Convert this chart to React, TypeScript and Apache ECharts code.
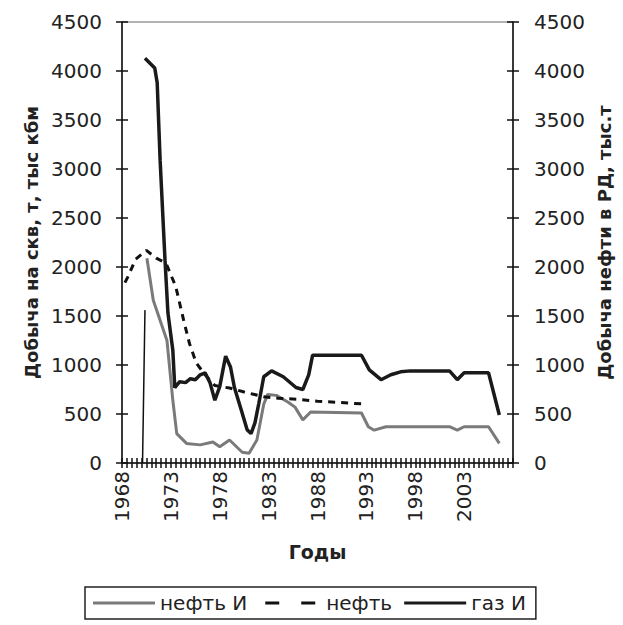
import React, { useEffect, useRef } from "react";
import * as echarts from "echarts";

// Years (x positions) and values for each series
const gasYears = [1970.35, 1971.35, 1971.6, 1971.9, 1972.4, 1972.7, 1973.2, 1973.4, 1973.9, 1974.5, 1975.0, 1975.5, 1976.0, 1976.5, 1977.0, 1977.5, 1978.0, 1978.6, 1979.1, 1979.5, 1980.2, 1980.8, 1981.2, 1981.6, 1982.0, 1982.5, 1983.3, 1984.5, 1985.8, 1986.5, 1987.1, 1987.5, 1992.5, 1993.3, 1994.5, 1995.5, 1996.5, 1997.5, 2001.5, 2002.3, 2003.0, 2005.5, 2006.6];
const gasValues = [4130, 4030, 3880, 3090, 2070, 1530, 1150, 770, 830, 820, 860, 850, 900, 920, 820, 640, 780, 1090, 980, 770, 540, 340, 300, 410, 610, 880, 940, 880, 770, 750, 900, 1100, 1100, 950, 850, 900, 930, 940, 940, 850, 920, 920, 490];

const oilWellYears = [1970.55, 1971.2, 1972.6, 1973.2, 1973.6, 1974.6, 1976.0, 1977.3, 1978.0, 1979.0, 1980.3, 1981.0, 1981.8, 1982.5, 1982.9, 1983.8, 1985.0, 1985.7, 1986.5, 1987.3, 1992.5, 1993.2, 1993.8, 1995.0, 2001.5, 2002.3, 2003.0, 2005.5, 2006.6];
const oilWellValues = [2090, 1660, 1250, 640, 300, 200, 185, 215, 165, 235, 110, 100, 235, 600, 700, 690, 620, 570, 440, 520, 510, 370, 335, 370, 370, 335, 370, 370, 200];

const oilYears = [1968.3, 1968.6, 1969.4, 1970.5, 1971.5, 1972.5, 1973.5, 1974.3, 1974.9, 1975.6, 1976.5, 1977.5, 1979.0, 1980.5, 1982.5, 1984.0, 1986.0, 1988.0, 1990.0, 1991.5, 1993.0];
const oilValues = [1840, 1900, 2080, 2170, 2090, 2040, 1800, 1460, 1220, 1020, 900, 790, 765, 725, 675, 660, 650, 630, 620, 610, 600];

const spikeYears = [1970.1, 1970.35];
const spikeValues = [0, 1560];

const yMin = 0;
const yMax = 4500;
const yStep = 500;
const xMin = 1968;
const xMax = 2008;
const xStep = 0.5;
const xLabelEvery = 5;
const xLabelLast = 2003;

const legendNames = ["нефть И", "нефть", "газ И"];
const leftTitle = "Добыча на скв, т, тыс кбм";
const rightTitle = "Добыча нефти в РД, тыс.т";
const xTitle = "Годы";

const FONT = "DejaVu Sans";

const ICON_SOLID = "path://M0,0 M0,5.5H62V8.5H0Z M62,14";
const ICON_DASH = "path://M0,0 M6,5.5H20V8.5H6Z M42,5.5H56V8.5H42Z M62,14";

function pairs(xs: number[], ys: number[]) {
  return xs.map((x, i) => [x, ys[i]]);
}

export default function App() {
  const ref = useRef<HTMLDivElement>(null);
  useEffect(() => {
    if (!ref.current) return;
    const chart = echarts.init(ref.current, null, { renderer: "svg" });
    const xFormatter = (v: number) => {
      const r = Math.round(v * 2) / 2;
      if (Number.isInteger(r) && (r - xMin) % xLabelEvery === 0 && r <= xLabelLast) return String(r);
      return "";
    };
    const yFormatter = (v: number) => String(v);
    const baseY = {
      type: "value" as const,
      min: yMin,
      max: yMax,
      interval: yStep,
      splitLine: { show: false },
    };
    const baseX = {
      type: "value" as const,
      min: xMin,
      max: xMax,
      interval: xStep,
      splitLine: { show: false },
    };
    chart.setOption({
      animation: false,
      backgroundColor: "#fff",
      textStyle: { fontFamily: FONT, color: "#222" },
      grid: {
        left: 122,
        right: 110,
        top: 22,
        bottom: 162,
        show: true,
        borderColor: "#666",
        borderWidth: 1,
      },
      xAxis: [
        {
          ...baseX,
          position: "bottom",
          axisLine: { onZero: false, lineStyle: { color: "#111", width: 1.5 } },
          axisTick: { length: 5, lineStyle: { color: "#111", width: 1.5 } },
          axisLabel: {
            formatter: xFormatter,
            rotate: 90,
            fontSize: 20,
            color: "#222",
            fontFamily: FONT,
            margin: 8,
          },
          name: xTitle,
          nameLocation: "middle",
          nameGap: 79,
          nameTextStyle: { fontSize: 19, fontWeight: "bold", color: "#222", fontFamily: FONT },
        },
        {
          ...baseX,
          position: "bottom",
          axisLine: { show: false, onZero: false },
          axisTick: { inside: true, length: 5, lineStyle: { color: "#111", width: 1.5 } },
          axisLabel: { show: false },
        },
      ],
      yAxis: [
        {
          ...baseY,
          position: "left",
          axisLine: { show: true, lineStyle: { color: "#111", width: 1.5 } },
          axisTick: { show: true, length: 6, lineStyle: { color: "#111", width: 1.5 } },
          axisLabel: { formatter: yFormatter, fontSize: 20, color: "#222", fontFamily: FONT, margin: 20 },
          name: leftTitle,
          nameLocation: "middle",
          nameGap: 80,
          nameRotate: 90,
          nameTextStyle: { fontSize: 18, fontWeight: "bold", color: "#222", fontFamily: FONT },
        },
        {
          ...baseY,
          position: "right",
          axisLine: { show: true, lineStyle: { color: "#111", width: 1.5 } },
          axisTick: { show: true, length: 6, lineStyle: { color: "#111", width: 1.5 } },
          axisLabel: { formatter: yFormatter, fontSize: 20, color: "#222", fontFamily: FONT, margin: 21 },
          name: rightTitle,
          nameLocation: "middle",
          nameGap: 67,
          nameRotate: 90,
          nameTextStyle: { fontSize: 18, fontWeight: "bold", color: "#222", fontFamily: FONT },
        },
        {
          ...baseY,
          position: "left",
          axisLine: { show: false },
          axisTick: { show: true, inside: true, length: 6, lineStyle: { color: "#111", width: 1.5 } },
          axisLabel: { show: false },
        },
        {
          ...baseY,
          position: "right",
          axisLine: { show: false },
          axisTick: { show: true, inside: true, length: 6, lineStyle: { color: "#111", width: 1.5 } },
          axisLabel: { show: false },
        },
      ],
      legend: {
        data: [
          { name: legendNames[0], icon: ICON_SOLID },
          { name: legendNames[1], icon: ICON_DASH },
          { name: legendNames[2], icon: ICON_SOLID },
        ],
        left: 85,
        top: 587,
        width: 460,
        orient: "horizontal",
        borderColor: "#222",
        borderWidth: 1.5,
        borderRadius: 0,
        padding: [6, 10, 6, 8],
        itemWidth: 62,
        itemHeight: 14,
        itemGap: 12,
        textStyle: { fontSize: 20, color: "#222", fontFamily: FONT },
      },
      series: [
        {
          name: legendNames[0],
          type: "line",
          data: pairs(oilWellYears, oilWellValues),
          symbol: "none",
          lineStyle: { color: "#7a7a7a", width: 3 },
          itemStyle: { color: "#7a7a7a" },
          z: 2,
        },
        {
          name: legendNames[1],
          type: "line",
          data: pairs(oilYears, oilValues),
          symbol: "none",
          yAxisIndex: 1,
          lineStyle: { color: "#111", width: 3, type: [7, 6] },
          itemStyle: { color: "#111" },
          z: 3,
        },
        {
          name: legendNames[2],
          type: "line",
          data: pairs(gasYears, gasValues),
          symbol: "none",
          lineStyle: { color: "#1a1a1a", width: 3.5 },
          itemStyle: { color: "#1a1a1a" },
          z: 4,
        },
        {
          name: "spike",
          type: "line",
          data: pairs(spikeYears, spikeValues),
          symbol: "none",
          lineStyle: { color: "#111", width: 1.5 },
          itemStyle: { color: "#111" },
          z: 4,
        },
      ],
    });
    return () => chart.dispose();
  }, []);
  return (
    <div
      ref={ref}
      style={{ position: "fixed", left: 0, top: 0, width: 623, height: 625, background: "#fff" }}
    />
  );
}
